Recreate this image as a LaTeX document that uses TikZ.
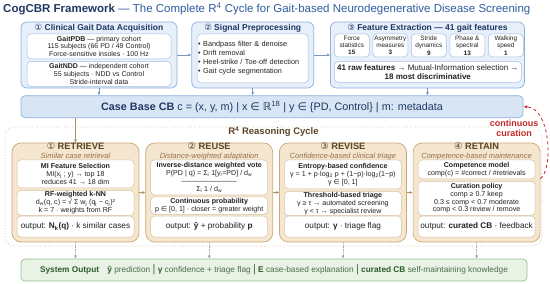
\documentclass[tikz,border=0pt]{standalone}
\usepackage{fontspec}
\setmainfont{Liberation Sans}
\newfontfamily\symfont{DejaVu Sans}
\usepackage{tikz}
\usetikzlibrary{positioning,arrows.meta}
\definecolor{cogNavy}{HTML}{1F3864}
\definecolor{cogBlue}{HTML}{2F5C9E}
\definecolor{cogBlueFill}{HTML}{E6EFFA}
\definecolor{cogBlueEdge}{HTML}{8EB0DD}
\definecolor{cogBlueDeep}{HTML}{D8E5F5}
\definecolor{cogTanFill}{HTML}{F4E6CF}
\definecolor{cogTanEdge}{HTML}{C9A877}
\definecolor{cogBrown}{HTML}{5C4424}
\definecolor{cogBrownSoft}{HTML}{94714A}
\definecolor{cogGreenFill}{HTML}{E8F3E5}
\definecolor{cogGreenEdge}{HTML}{93BF8D}
\definecolor{cogGreen}{HTML}{2E5A2A}
\definecolor{cogGreenText}{HTML}{4D6B48}
\definecolor{cogRed}{HTML}{C62828}
\definecolor{cogInk}{HTML}{222222}
\tikzset{
  block/.style={draw, rounded corners=6pt, line width=0.7pt, inner sep=1pt},
  blockBlue/.style={block, fill=cogBlueFill, draw=cogBlueEdge},
  blockCase/.style={block, rounded corners=4pt, fill=cogBlueDeep, draw=cogBlueEdge, text=cogNavy, font=\fontsize{10.8}{12}\selectfont},
  blockTan/.style={block, rounded corners=9pt, fill=cogTanFill, draw=cogTanEdge},
  blockGreen/.style={block, rounded corners=4pt, fill=cogGreenFill, draw=cogGreenEdge, text=cogGreenText, font=\fontsize{8.3}{9}\selectfont},
  innerBlue/.style={draw=cogBlueEdge!80, fill=white, rounded corners=4pt, line width=0.5pt, inner sep=1pt, align=center, text=cogInk, font=\fontsize{7}{7.6}\selectfont},
  innerTan/.style={innerBlue, draw=cogTanEdge!70, font=\fontsize{7.1}{7.8}\selectfont},
  outTan/.style={innerTan, font=\fontsize{8.2}{9}\selectfont},
  featBox/.style={innerBlue, minimum width=35pt, minimum height=23pt, font=\fontsize{6.4}{7.4}\selectfont},
  headText/.style={inner sep=1pt, text=cogNavy, font=\bfseries\fontsize{8.5}{10}\selectfont},
  stageTitle/.style={inner sep=0.5pt, text height=7pt, text depth=2pt, text=cogBrown, font=\bfseries\fontsize{9.3}{10}\selectfont},
  stageSub/.style={inner sep=0.3pt, text height=5.5pt, text depth=1.6pt, text=cogBrownSoft, font=\itshape\fontsize{7.5}{8}\selectfont},
  arrow/.style={-{Latex[length=3pt,width=3pt]}, line width=0.6pt},
  arrowBlue/.style={arrow, draw=cogBlueEdge!85!black},
  arrowBrown/.style={arrow, draw=cogTanEdge!85!black},
  arrowDotted/.style={arrow, densely dotted, draw=gray!70},
  cycleBox/.style={draw=cogTanEdge!80, dotted, line width=0.7pt, rounded corners=10pt},
  curation/.style={-{Latex[length=4pt,width=3.5pt]}, dashed, line width=0.8pt, draw=cogRed},
  edgeLabel/.style={fill=white, inner sep=1pt, align=center, text=cogRed, font=\bfseries\fontsize{9}{10}\selectfont}
}

\begin{document}
\begin{tikzpicture}[x=1pt, y=-1pt]
  \useasboundingbox (0,0) rectangle (550,284);
  \node[anchor=west, inner sep=0pt, font=\fontsize{11.5}{13}\selectfont] (title) at (3,9)
    {\textcolor{cogNavy}{\bfseries CogCBR Framework} \textcolor{cogBlue}{— The Complete R\textsuperscript{4} Cycle for Gait-based Neurodegenerative Disease Screening}};

  \node[blockBlue, minimum width=156pt, minimum height=66pt] (acq) at (99,55) {};
  \node[blockBlue, right=14pt of acq, minimum width=122pt, minimum height=66pt] (prep) {};
  \node[blockBlue, right=16pt of prep, minimum width=194pt, minimum height=66pt] (feat) {};
  \node[headText, below=1.5pt of acq.north] (acqT) {{\symfont\mdseries ①} Clinical Gait Data Acquisition};
  \node[headText, below=1.5pt of prep.north] (prepT) {{\symfont\mdseries ②} Signal Preprocessing};
  \node[headText, below=1.5pt of feat.north] (featT) {{\symfont\mdseries ③} Feature Extraction — 41 gait features};

  \node[innerBlue, below=12pt of acq.north, minimum width=144pt, minimum height=25pt] (pdb)
    {\textbf{GaitPDB} — primary cohort\\115 subjects (66 PD / 49 Control)\\Force-sensitive insoles · 100 Hz};
  \node[innerBlue, below=2pt of pdb, minimum width=144pt, minimum height=25pt] (ndd)
    {\textbf{GaitNDD} — independent cohort\\55 subjects · NDD vs Control\\Stride-interval data};
  \node[innerBlue, below=12pt of prep.north, text width=109pt, inner sep=1pt, minimum height=49pt, align=left, font=\fontsize{7.3}{9}\selectfont] (prepB)
    {• Bandpass filter \& denoise\\• Drift removal\\• Heel-strike / Toe-off detection\\• Gait cycle segmentation};

  \node[featBox, anchor=north west] (fForce) at ([xshift=4pt, yshift=-12pt]feat.north west) {Force\\statistics\\\textbf{15}};
  \node[featBox, right=3pt of fForce] (fAsym) {Asymmetry\\measures\\\textbf{3}};
  \node[featBox, right=3pt of fAsym] (fStride) {Stride\\dynamics\\\textbf{9}};
  \node[featBox, right=3pt of fStride] (fPhase) {Phase \&\\spectral\\\textbf{13}};
  \node[featBox, right=3pt of fPhase] (fSpeed) {Walking\\speed\\\textbf{1}};
  \node[innerBlue, anchor=north west, minimum width=187pt, minimum height=21pt, font=\fontsize{8}{9}\selectfont] (fSel) at ([yshift=-4pt]fForce.south west)
    {\textbf{41 raw features} → Mutual-Information selection →\\\textbf{18 most discriminative}};

  \node[blockCase, below=7pt of acq.south west, anchor=north west, minimum width=502pt, minimum height=22pt] (cb)
    {\textbf{Case Base CB} c = (x, y, m) | x {\symfont ∈} {\symfont ℝ}\textsuperscript{18} | y {\symfont ∈} \{PD, Control\} | m: metadata};

  \node[cycleBox, minimum width=537pt, minimum height=119pt] (cycle) at (273.5,186.5) {};
  \node[stageTitle, below=0.5pt of cycle.north, font=\bfseries\fontsize{9.5}{10}\selectfont] (cycleT) {R\textsuperscript{4} Reasoning Cycle};

  \node[blockTan, minimum width=127pt, minimum height=99pt] (retrieve) at (75.5,192.5) {};
  \node[blockTan, right=6pt of retrieve, minimum width=127pt, minimum height=99pt] (reuse) {};
  \node[blockTan, right=6pt of reuse, minimum width=127pt, minimum height=99pt] (revise) {};
  \node[blockTan, right=6pt of revise, minimum width=127pt, minimum height=99pt] (retain) {};

  \node[stageTitle, below=-0.5pt of retrieve.north] (retrieveT) {{\symfont\mdseries ①} RETRIEVE};
  \node[stageSub, below=0pt of retrieveT] (retrieveS) {Similar case retrieval};
  \node[innerTan, below=17pt of retrieve.north, minimum width=117pt, minimum height=28pt] (retrieveA)
    {\textbf{MI Feature Selection}\\MI(x\textsubscript{j} ; y) → top 18\\reduces 41 → 18 dim};
  \node[innerTan, below=2pt of retrieveA, minimum width=117pt, minimum height=25pt] (retrieveB)
    {\textbf{RF-weighted k-NN}\\d\textsubscript{w}(q, c) = √ Σ w\textsubscript{j} (q\textsubscript{j} − c\textsubscript{j})²\\k = 7 · weights from RF};
  \node[outTan, above=5pt of retrieve.south, minimum width=117pt, minimum height=21pt] (retrieveOut)
    {output: \textbf{N\textsubscript{k}(q)} · k similar cases};

  \node[stageTitle, below=-0.5pt of reuse.north] (reuseT) {{\symfont\mdseries ②} REUSE};
  \node[stageSub, below=0pt of reuseT] (reuseS) {Distance-weighted adaptation};
  \node[innerTan, below=17pt of reuse.north, minimum width=117pt, minimum height=35pt] (reuseA)
    {\textbf{Inverse-distance weighted vote}\\P(PD | q) = Σ\textsubscript{i} 1[y\textsubscript{i}=PD] / d\textsubscript{w}\\––––––––––––––\\Σ\textsubscript{i} 1 / d\textsubscript{w}};
  \node[innerTan, below=1.5pt of reuseA, minimum width=117pt, minimum height=17.5pt] (reuseB)
    {\textbf{Continuous probability}\\p {\symfont ∈} [0, 1] · closer = greater weight};
  \node[outTan, above=5pt of reuse.south, minimum width=117pt, minimum height=21pt] (reuseOut)
    {output: \textbf{ŷ} + probability \textbf{p}};

  \node[stageTitle, below=-0.5pt of revise.north] (reviseT) {{\symfont\mdseries ③} REVISE};
  \node[stageSub, below=0pt of reviseT] (reviseS) {Confidence-based clinical triage};
  \node[innerTan, below=17pt of revise.north, minimum width=117pt, minimum height=29pt] (reviseA)
    {\textbf{Entropy-based confidence}\\γ = 1 + p·log\textsubscript{2} p + (1−p)·log\textsubscript{2}(1−p)\\γ {\symfont ∈} [0, 1]};
  \node[innerTan, below=2pt of reviseA, minimum width=117pt, minimum height=24pt] (reviseB)
    {\textbf{Threshold-based triage}\\γ ≥ τ → automated screening\\γ < τ → specialist review};
  \node[outTan, above=5pt of revise.south, minimum width=117pt, minimum height=21pt] (reviseOut)
    {output: \textbf{γ} · triage flag};

  \node[stageTitle, below=-0.5pt of retain.north] (retainT) {{\symfont\mdseries ④} RETAIN};
  \node[stageSub, below=0pt of retainT] (retainS) {Competence-based maintenance};
  \node[innerTan, below=17pt of retain.north, minimum width=117pt, minimum height=19pt] (retainA)
    {\textbf{Competence model}\\comp(c) = \#correct / \#retrievals};
  \node[innerTan, below=2pt of retainA, minimum width=117pt, minimum height=34pt] (retainB)
    {\textbf{Curation policy}\\comp ≥ 0.7 keep\\0.3 ≤ comp < 0.7 moderate\\comp < 0.3 review / remove};
  \node[outTan, above=5pt of retain.south, minimum width=117pt, minimum height=21pt] (retainOut)
    {output: \textbf{curated CB} · feedback};

  \node[blockGreen, minimum width=506pt, minimum height=22pt] (sysout) at (274,270)
    {\textcolor{cogGreen}{\bfseries System Output}\quad \textcolor{cogGreen}{\bfseries ŷ} prediction {\fontsize{11}{11}\selectfont|} \textcolor{cogGreen}{\bfseries γ} confidence + triage flag {\fontsize{11}{11}\selectfont|} \textcolor{cogGreen}{\bfseries E} case-based explanation {\fontsize{11}{11}\selectfont|} \textcolor{cogGreen}{\bfseries curated CB} self-maintaining knowledge};

  \draw[arrowBlue] (acq) -- (prep);
  \draw[arrowBlue] (prep) -- (feat);
  \draw[arrowBlue] (acq) -- (acq |- cb.north);
  \draw[arrowBlue] (prep) -- (prep |- cb.north);
  \draw[arrowBlue] (feat) -- (feat |- cb.north);
  \draw[arrowBrown] (cb.south -| retrieve.north) -- (retrieve);
  \draw[arrowBrown] (retrieve) -- (reuse);
  \draw[arrowBrown] (reuse) -- (revise);
  \draw[arrowBrown] (revise) -- (retain);
  \draw[arrowDotted] (retrieve) -- (retrieve |- sysout.north);
  \draw[arrowDotted] (reuse) -- (reuse |- sysout.north);
  \draw[arrowDotted] (revise) -- (revise |- sysout.north);
  \draw[arrowDotted] (retain) -- (retain |- sysout.north);
  \node[edgeLabel] (curLabel) at (514,128) {continuous\\curation};
  \draw[curation] ([yshift=14pt]retain.east) .. controls (553,170) and (551,108) .. (cb.east);
\end{tikzpicture}
\end{document}
